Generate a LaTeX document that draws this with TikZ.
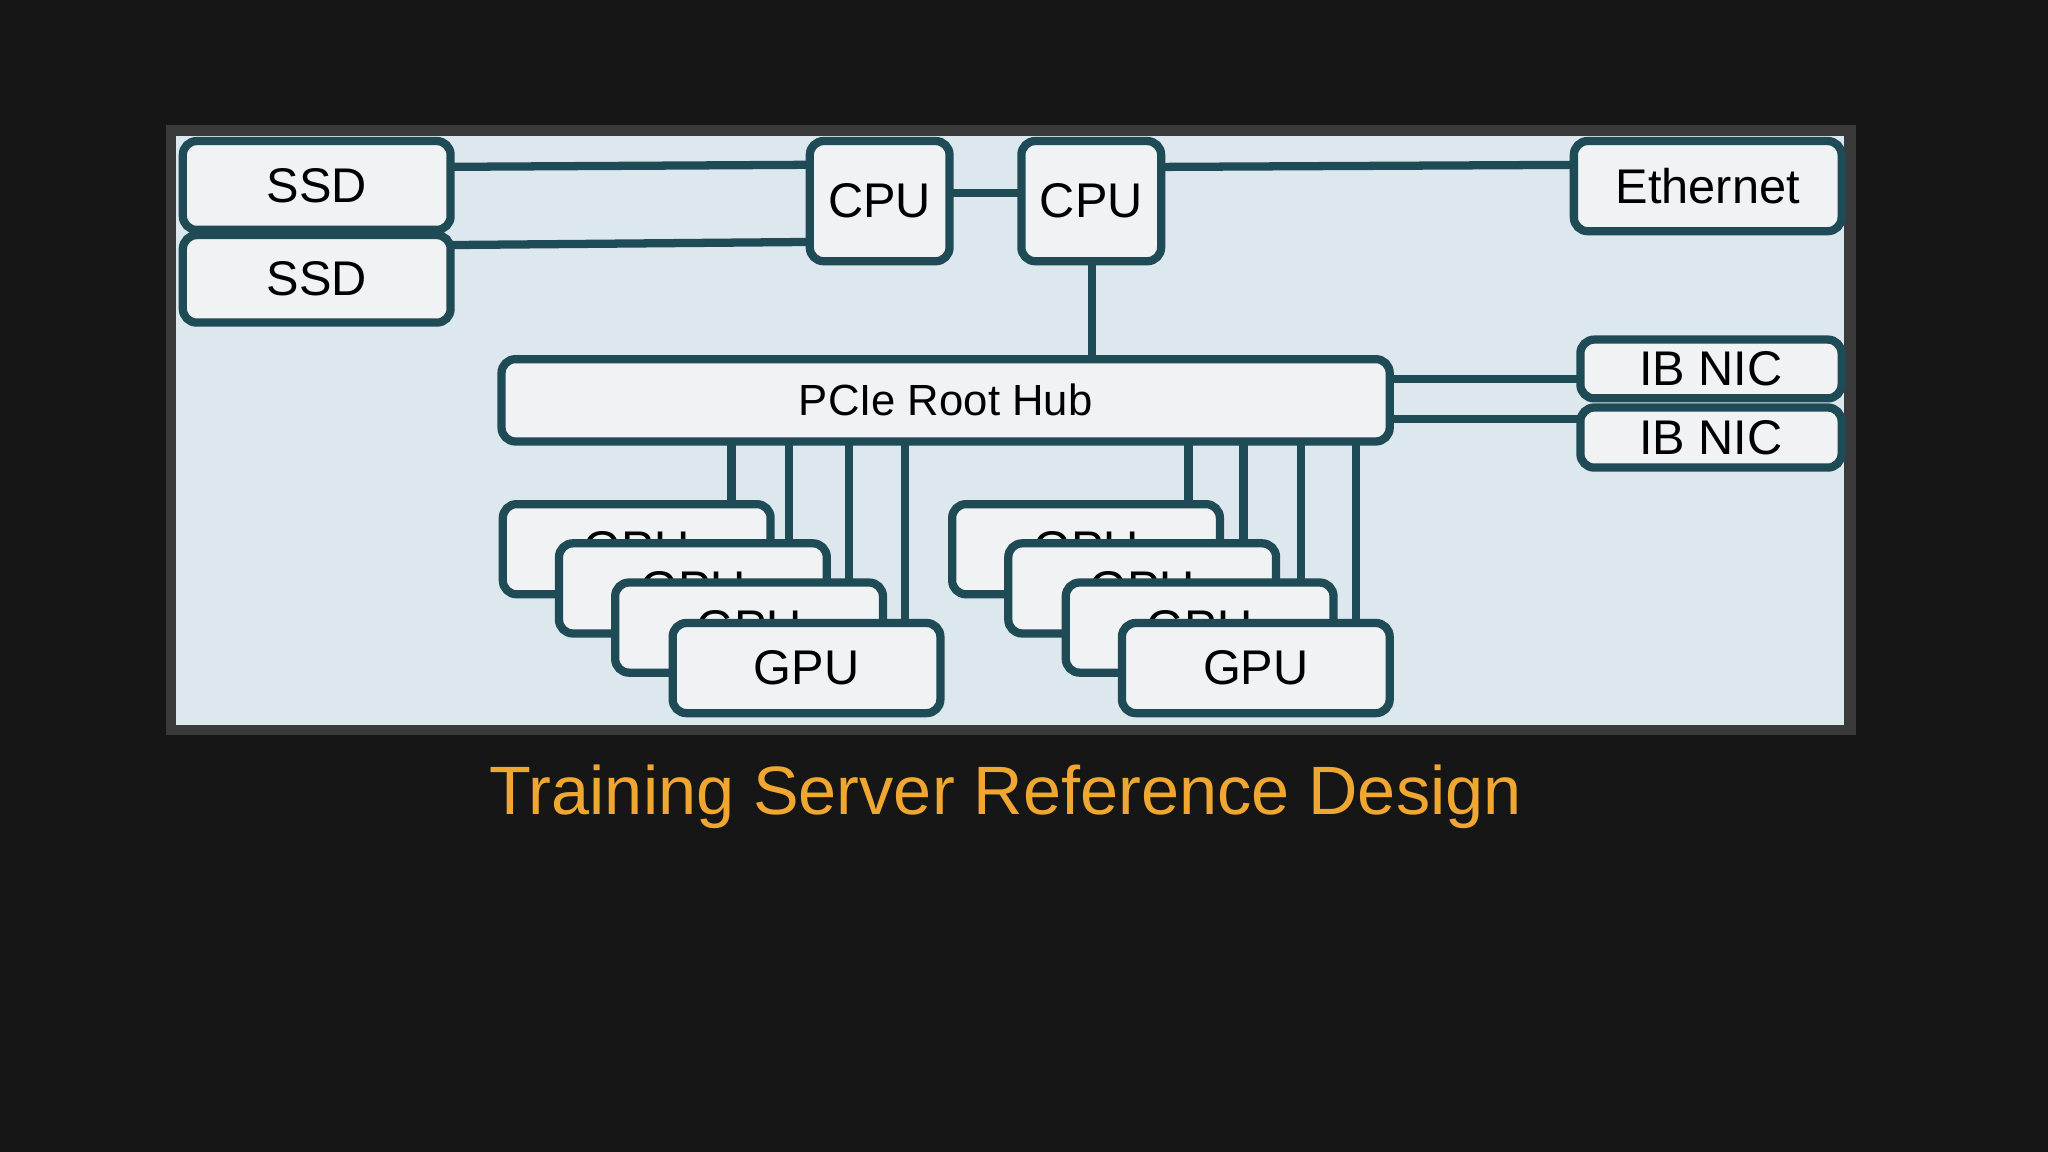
\documentclass[tikz,border=0pt]{standalone}
\usepackage{fontspec}
\setmainfont{Liberation Sans}
\usetikzlibrary{fit}
\definecolor{bg}{HTML}{161616}
\definecolor{panel}{HTML}{DDE7EE}
\definecolor{frame}{HTML}{3A3A3A}
\definecolor{teal}{HTML}{1F4B57}
\definecolor{boxf}{HTML}{F1F2F4}
\definecolor{orng}{HTML}{F0A732}
\begin{document}
\begin{tikzpicture}[x=0.01cm,y=-0.01cm,
  bx/.style={draw=teal,fill=boxf,line width=1.8pt,rounded corners=3pt,inner sep=0pt},
  lab/.style={font=\fontsize{10.6}{13}\selectfont,text=black},
  ln/.style={draw=teal,line width=1.8pt}]
\fill[bg] (0,0) rectangle (1568,882);
\useasboundingbox (0,0) rectangle (1568,882);
\fill[frame] (127,96) rectangle (1421,563);
\fill[panel] (135,104) rectangle (1412,555);
\newcommand{\bxat}[6]{\node[bx,fit={(#2,#3) (#4,#5)},label={[lab]center:#6}] (#1) {};}
\newcommand{\gpuat}[3]{\node[bx,fit={(#2,#3) (#2+205,#3+69)},label={[lab]center:GPU}] (#1) {};}
\draw[ln] (300,128) -- (650,126);
\draw[ln] (300,188) -- (650,185);
\draw[ln] (700,148) -- (800,148);
\draw[ln] (850,128) -- (1250,126);
\foreach \x/\y in {560/386,604/416,650/446,693/477,910/386,952/416,996/446,1038/477}
  \draw[ln] (\x,300) -- (\x,\y+5);
\draw[ln] (836,150) -- (836,300);
\draw[ln] (1000,290) -- (1250,290);
\draw[ln] (1000,321) -- (1250,321);
\bxat{ssda}{140}{108}{345}{176}{SSD}
\bxat{ssdb}{140}{180}{345}{247}{SSD}
\bxat{cpua}{620}{108}{727}{200}{CPU}
\bxat{cpub}{782}{108}{889}{200}{CPU}
\bxat{eth}{1205}{108}{1410}{177}{Ethernet}
\bxat{ibb}{1210}{312}{1410}{358}{IB NIC}
\bxat{iba}{1210}{260}{1410}{305}{IB NIC}
\node[bx,fit={(384,275) (1064,338)},label={[lab,font=\fontsize{9.5}{11}\selectfont]center:PCIe Root Hub}] (pcie) {};
\gpuat{ga}{385}{386}
\gpuat{gb}{428}{416}
\gpuat{gc}{471}{446}
\gpuat{gd}{515}{477}
\gpuat{ha}{729}{386}
\gpuat{hb}{772}{416}
\gpuat{hc}{816}{446}
\gpuat{hd}{859}{477}
\node[text=orng,font=\fontsize{14.9}{17}\selectfont] (title) at (770,610) {Training Server Reference Design};
\end{tikzpicture}
\end{document}
